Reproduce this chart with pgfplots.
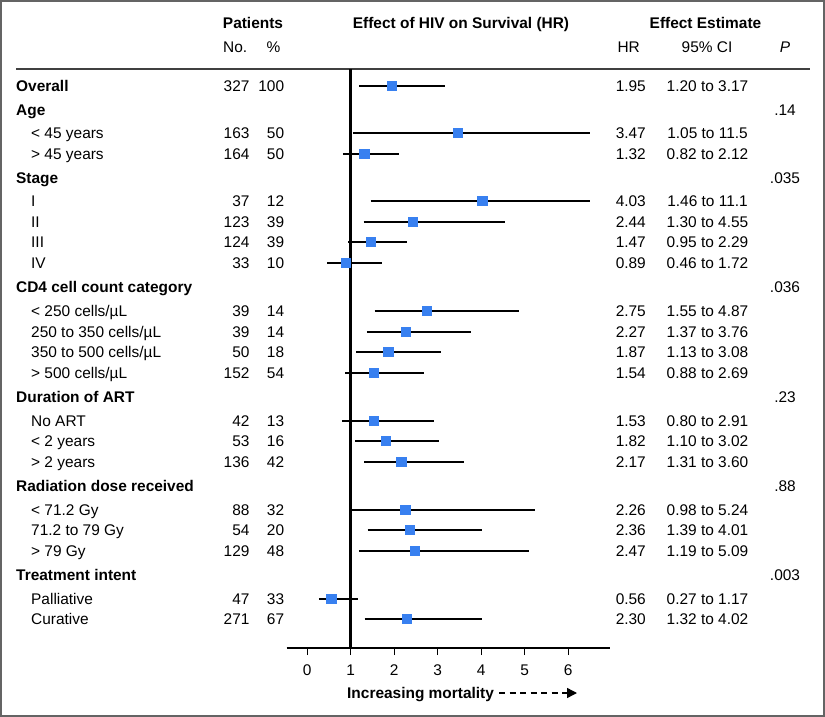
\documentclass[border=0pt]{standalone}
\usepackage{fontspec}
\setmainfont{Liberation Sans}
\usepackage{pgfplots}
\pgfplotsset{compat=1.18}
\usepackage{pgfplotstable}
\usetikzlibrary{arrows.meta}
\definecolor{hivblue}{RGB}{56,128,240}
\definecolor{framegray}{RGB}{100,100,100}

% y = -(pixel row), hr
\pgfplotstableread{
y      hr
-86    1.95
-133   3.47
-154   1.32
-201   4.03
-222   2.44
-242   1.47
-263   0.89
-311   2.75
-332   2.27
-352   1.87
-373   1.54
-421   1.53
-441   1.82
-462   2.17
-510   2.26
-530   2.36
-551   2.47
-599   0.56
-619   2.30
}\forestdata

\newcommand\fs{\fontsize{15.5}{18}\selectfont}
\def\bs{5.5}
\newcommand\subrow[6]{%
  \node[anchor=base west] at (31,{-(#1+\bs)}) {#2};
  \node[anchor=base east] at (249.7,{-(#1+\bs)}) {#3};
  \node[anchor=base east] at (284.3,{-(#1+\bs)}) {#4};
  \node[anchor=base east] at (646,{-(#1+\bs)}) {#5};
  \node[anchor=base] at (707.5,{-(#1+\bs)}) {#6};
}
\newcommand\grouprow[3]{%
  \node[anchor=base west,font=\fs\bfseries] at (16,{-(#1+\bs)}) {#2};
  \node[anchor=base] at (785,{-(#1+\bs)}) {#3};
}

\begin{document}
\begin{tikzpicture}[x=1bp,y=1bp,font=\fs,every node/.style={inner sep=0pt}]
\path[use as bounding box] (0,0) rectangle (825,-717);
\draw[framegray, line width=2bp] (1,-1) rectangle (824,-716);
\draw[black!75, line width=1.5bp] (16,-69) -- (810,-69);

\begin{axis}[
  at={(286.7bp,-648bp)}, anchor=south west,
  scale only axis, width=323.3bp, height=579bp,
  xmin=-0.47, xmax=6.96, ymin=-648, ymax=-69,
  axis x line*=bottom, axis y line=none,
  x axis line style={-, line width=1.5bp},
  xtick={0,1,2,3,4,5,6},
  tick align=outside, major tick length=7bp,
  tick style={black, line width=1.2bp},
  /pgf/number format/assume math mode=true,
  xticklabel style={font=\fs, yshift=-10pt},
  clip=false,
]
\addplot[black, line width=2.5bp] coordinates {(1,-69) (1,-648)};
% 95% CI lines (upper limits 11.5 and 11.1 truncated at 6.5, as drawn)
\addplot[black, line width=2.6bp, unbounded coords=jump] coordinates {
 (1.20,-86) (3.17,-86) (nan,nan)
 (1.05,-133) (6.50,-133) (nan,nan)
 (0.82,-154) (2.12,-154) (nan,nan)
 (1.46,-201) (6.50,-201) (nan,nan)
 (1.30,-222) (4.55,-222) (nan,nan)
 (0.95,-242) (2.29,-242) (nan,nan)
 (0.46,-263) (1.72,-263) (nan,nan)
 (1.55,-311) (4.87,-311) (nan,nan)
 (1.37,-332) (3.76,-332) (nan,nan)
 (1.13,-352) (3.08,-352) (nan,nan)
 (0.88,-373) (2.69,-373) (nan,nan)
 (0.80,-421) (2.91,-421) (nan,nan)
 (1.10,-441) (3.02,-441) (nan,nan)
 (1.31,-462) (3.60,-462) (nan,nan)
 (0.98,-510) (5.24,-510) (nan,nan)
 (1.39,-530) (4.01,-530) (nan,nan)
 (1.19,-551) (5.09,-551) (nan,nan)
 (0.27,-599) (1.17,-599) (nan,nan)
 (1.32,-619) (4.02,-619)
};
\addplot[only marks, mark=square*, mark size=4.6bp,
  mark options={fill=hivblue, draw=hivblue, line width=0pt}]
  table[x=hr, y=y] {\forestdata};
\end{axis}

% header
\node[anchor=base,font=\fs\bfseries] at (253,{-(23+\bs)}) {Patients};
\node[anchor=base west] at (223,{-(47+\bs)}) {No.};
\node[anchor=base] at (273.5,{-(47+\bs)}) {\%};
\node[anchor=base,font=\fs\bfseries] at (461,{-(23+\bs)}) {Effect of HIV on Survival (HR)};
\node[anchor=base,font=\fs\bfseries] at (705.5,{-(23+\bs)}) {Effect Estimate};
\node[anchor=base east] at (640,{-(47+\bs)}) {HR};
\node[anchor=base] at (707,{-(47+\bs)}) {95\% CI};
\node[anchor=base] at (785,{-(47+\bs)}) {\itshape P};

% rows
\node[anchor=base west,font=\fs\bfseries] at (16,{-(86+\bs)}) {Overall};
\node[anchor=base east] at (249.7,{-(86+\bs)}) {327};
\node[anchor=base east] at (284.3,{-(86+\bs)}) {100};
\node[anchor=base east] at (646,{-(86+\bs)}) {1.95};
\node[anchor=base] at (707.5,{-(86+\bs)}) {1.20 to 3.17};

\grouprow{110}{Age}{.14}
\subrow{133}{< 45 years}{163}{50}{3.47}{1.05 to 11.5}
\subrow{154}{> 45 years}{164}{50}{1.32}{0.82 to 2.12}
\grouprow{177.5}{Stage}{.035}
\subrow{201}{I}{37}{12}{4.03}{1.46 to 11.1}
\subrow{222}{II}{123}{39}{2.44}{1.30 to 4.55}
\subrow{242}{III}{124}{39}{1.47}{0.95 to 2.29}
\subrow{263}{IV}{33}{10}{0.89}{0.46 to 1.72}
\grouprow{287}{CD4 cell count category}{.036}
\subrow{311}{< 250 cells/µL}{39}{14}{2.75}{1.55 to 4.87}
\subrow{332}{250 to 350 cells/µL}{39}{14}{2.27}{1.37 to 3.76}
\subrow{352}{350 to 500 cells/µL}{50}{18}{1.87}{1.13 to 3.08}
\subrow{373}{> 500 cells/µL}{152}{54}{1.54}{0.88 to 2.69}
\grouprow{396.5}{Duration of ART}{.23}
\subrow{421}{No ART}{42}{13}{1.53}{0.80 to 2.91}
\subrow{441}{< 2 years}{53}{16}{1.82}{1.10 to 3.02}
\subrow{462}{> 2 years}{136}{42}{2.17}{1.31 to 3.60}
\grouprow{486}{Radiation dose received}{.88}
\subrow{510}{< 71.2 Gy}{88}{32}{2.26}{0.98 to 5.24}
\subrow{530}{71.2 to 79 Gy}{54}{20}{2.36}{1.39 to 4.01}
\subrow{551}{> 79 Gy}{129}{48}{2.47}{1.19 to 5.09}
\grouprow{575}{Treatment intent}{.003}
\subrow{599}{Palliative}{47}{33}{0.56}{0.27 to 1.17}
\subrow{619}{Curative}{271}{67}{2.30}{1.32 to 4.02}

% axis title with dashed arrow
\node[anchor=base west,font=\fs\bfseries] at (347,{-(693+\bs)}) {Increasing mortality};
\draw[black, line width=1.4bp, dash pattern=on 6bp off 4.5bp, -{Stealth[length=10bp,width=10bp,inset=0pt]}]
  (499,-693) -- (577,-693);
\end{tikzpicture}
\end{document}
